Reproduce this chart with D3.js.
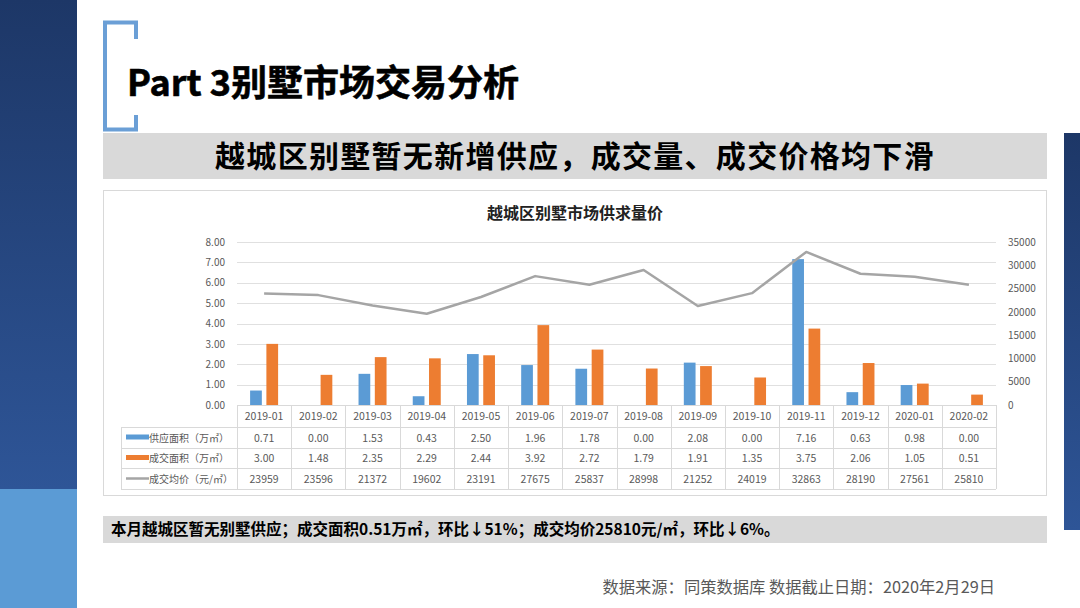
<!DOCTYPE html>
<head>
  <meta charset="utf-8">
  <script src="https://cdnjs.cloudflare.com/ajax/libs/d3/7.8.5/d3.min.js"></script>
</head>

<style>
body {
  margin: 0;
  background-color: #fff;
}
svg text {
  font-family: "Noto Sans CJK SC", "Noto Sans", sans-serif;
}
</style>

<body>
  <svg id='slide' width='1080' height='608'></svg>
</body>

<script>

// chart data
var months = ['2019-01', '2019-02', '2019-03', '2019-04', '2019-05', '2019-06', '2019-07',
              '2019-08', '2019-09', '2019-10', '2019-11', '2019-12', '2020-01', '2020-02'];
var supply = [0.71, 0.00, 1.53, 0.43, 2.50, 1.96, 1.78, 0.00, 2.08, 0.00, 7.16, 0.63, 0.98, 0.00];
var deal = [3.00, 1.48, 2.35, 2.29, 2.44, 3.92, 2.72, 1.79, 1.91, 1.35, 3.75, 2.06, 1.05, 0.51];
var price = [23959, 23596, 21372, 19602, 23191, 27675, 25837, 28998, 21252, 24019, 32863, 28190, 27561, 25810];
var leftTicks = [0, 1, 2, 3, 4, 5, 6, 7, 8];
var rightTicks = [0, 5000, 10000, 15000, 20000, 25000, 30000, 35000];
var seriesNames = ['供应面积（万㎡）', '成交面积（万㎡）', '成交均价（元/㎡）'];
var colours = ['#5b9bd5', '#ed7d31', '#a5a5a5'];

var svg = d3.select('#slide');
var defs = svg.append('defs');

// side decorations
var g1 = defs.append('linearGradient').attr('id', 'side').attr('x1', 0).attr('y1', 0).attr('x2', 0).attr('y2', 1);
g1.append('stop').attr('offset', '0%').attr('stop-color', '#1d3767');
g1.append('stop').attr('offset', '100%').attr('stop-color', '#2e5597');

svg.append('rect').attr('x', 0).attr('y', 0).attr('width', 77).attr('height', 489).attr('fill', 'url(#side)');
svg.append('rect').attr('x', 0).attr('y', 489).attr('width', 77).attr('height', 119).attr('fill', '#5b9bd5');
svg.append('rect').attr('x', 1064).attr('y', 133).attr('width', 16).attr('height', 397).attr('fill', 'url(#side)');

// bracket
svg.append('path')
    .attr('d', 'M136,39 V22.5 H105 V129.5 H136 V115')
    .attr('fill', 'none')
    .attr('stroke', '#6b9fd6')
    .attr('stroke-width', 4);

svg.append('text')
    .attr('x', 127).attr('y', 96)
    .attr('font-size', 36).attr('font-weight', 'bold').attr('fill', '#000')
    .attr('stroke', '#000').attr('stroke-width', 0.6)
    .text('Part 3别墅市场交易分析');

// subtitle band
svg.append('rect').attr('x', 103).attr('y', 133).attr('width', 944).attr('height', 46).attr('fill', '#d9d9d9');
svg.append('text')
    .attr('x', 575).attr('y', 167)
    .attr('text-anchor', 'middle')
    .attr('font-size', 30).attr('font-weight', 'bold').attr('fill', '#000')
    .style('letter-spacing', '1.3px')
    .text('越城区别墅暂无新增供应，成交量、成交价格均下滑');

// chart box
svg.append('rect').attr('x', 103.5).attr('y', 190.5).attr('width', 943).attr('height', 305)
    .attr('fill', '#fff').attr('stroke', '#d9d9d9');

svg.append('text')
    .attr('x', 575).attr('y', 219)
    .attr('text-anchor', 'middle')
    .attr('font-size', 16).attr('font-weight', 'bold').attr('fill', '#222')
    .text('越城区别墅市场供求量价');

var x = d3.scaleBand().domain(months).range([237, 996]);
var xs = d3.scaleBand().domain([0, 1]).range([-14, 14]).paddingInner(0.28);
var yL = d3.scaleLinear().domain([0, 8]).range([405, 242]);
var yR = d3.scaleLinear().domain([0, 35000]).range([405, 242]);

// gridlines
svg.append('g').selectAll('line')
  .data(leftTicks)
  .enter().append('line')
    .attr('x1', 237).attr('x2', 996)
    .attr('y1', function(d){ return Math.round(yL(d)) + 0.5 })
    .attr('y2', function(d){ return Math.round(yL(d)) + 0.5 })
    .attr('stroke', '#e0e0e0');

var axL = svg.append('g').attr('transform', 'translate(231,0)')
    .call(d3.axisLeft(yL).tickValues(leftTicks).tickFormat(d3.format('.2f')).tickSize(0).tickPadding(6));
var axR = svg.append('g').attr('transform', 'translate(1002,0)')
    .call(d3.axisRight(yR).tickValues(rightTicks).tickFormat(d3.format('d')).tickSize(0).tickPadding(6));
[axL, axR].forEach(function(ax){
  ax.select('.domain').remove();
  ax.selectAll('text')
    .attr('font-family', '"Noto Sans CJK SC", sans-serif')
    .attr('font-size', 10).attr('fill', '#595959');
});

// bars
var barData = [supply, deal];
barData.forEach(function(vals, s){
  svg.append('g').selectAll('rect')
    .data(vals)
    .enter().append('rect')
      .attr('x', function(d, i){ return x(months[i]) + x.bandwidth() / 2 + xs(s) })
      .attr('width', xs.bandwidth())
      .attr('y', function(d){ return yL(d) })
      .attr('height', function(d){ return yL(0) - yL(d) })
      .attr('fill', colours[s]);
});

// price line
var line = d3.line()
    .x(function(d, i){ return x(months[i]) + x.bandwidth() / 2 })
    .y(function(d){ return yR(d) });

svg.append('path')
    .datum(price)
    .attr('d', line)
    .attr('fill', 'none')
    .attr('stroke', colours[2])
    .attr('stroke-width', 2.5)
    .attr('stroke-linejoin', 'round');

// data table
var rowY = [405, 427, 448, 468, 489];
var tbl = svg.append('g');
var gridCol = '#d9d9d9';

rowY.forEach(function(y, r){
  tbl.append('line')
    .attr('x1', r == 0 ? 237 : 121).attr('x2', 996)
    .attr('y1', y + 0.5).attr('y2', y + 0.5)
    .attr('stroke', gridCol);
});
months.concat(['end']).forEach(function(m){
  var xx = m == 'end' ? 996 : x(m);
  tbl.append('line')
    .attr('x1', Math.round(xx) + 0.5).attr('x2', Math.round(xx) + 0.5)
    .attr('y1', 405).attr('y2', 489)
    .attr('stroke', gridCol);
});
tbl.append('line').attr('x1', 121.5).attr('x2', 121.5).attr('y1', 427).attr('y2', 489).attr('stroke', gridCol);

var cellFont = 10.5;
tbl.selectAll('text.head')
  .data(months)
  .enter().append('text')
    .attr('class', 'head')
    .attr('x', function(d){ return x(d) + x.bandwidth() / 2 })
    .attr('y', 420)
    .attr('text-anchor', 'middle')
    .attr('font-size', cellFont).attr('fill', '#595959')
    .text(function(d){ return d });

var rowVals = [supply.map(d3.format('.2f')), deal.map(d3.format('.2f')), price.map(String)];
rowVals.forEach(function(vals, r){
  var cy = (rowY[r + 1] + rowY[r + 2]) / 2;
  tbl.append('g').selectAll('text')
    .data(vals)
    .enter().append('text')
      .attr('x', function(d, i){ return x(months[i]) + x.bandwidth() / 2 })
      .attr('y', cy + 4)
      .attr('text-anchor', 'middle')
      .attr('font-size', cellFont).attr('fill', '#595959')
      .text(function(d){ return d });

  if (r < 2) {
    tbl.append('rect').attr('x', 126).attr('y', cy - 3).attr('width', 23).attr('height', 5).attr('fill', colours[r]);
  } else {
    tbl.append('line').attr('x1', 126).attr('x2', 149).attr('y1', cy).attr('y2', cy)
      .attr('stroke', colours[2]).attr('stroke-width', 2.5);
  }
  tbl.append('text')
    .attr('x', 149).attr('y', cy + 4)
    .attr('font-size', 10).attr('fill', '#595959')
    .text(seriesNames[r]);
});

// summary band
svg.append('rect').attr('x', 103).attr('y', 516).attr('width', 944).attr('height', 27).attr('fill', '#d9d9d9');
svg.append('text')
    .attr('x', 111).attr('y', 535)
    .attr('font-size', 15.5).attr('font-weight', 'bold').attr('fill', '#000')
    .text('本月越城区暂无别墅供应；成交面积0.51万㎡，环比↓51%；成交均价25810元/㎡，环比↓6%。');

// footer
svg.append('text')
    .attr('x', 995).attr('y', 593)
    .attr('text-anchor', 'end')
    .attr('font-size', 16.3).attr('fill', '#595959')
    .text('数据来源：同策数据库 数据截止日期：2020年2月29日');

</script>
